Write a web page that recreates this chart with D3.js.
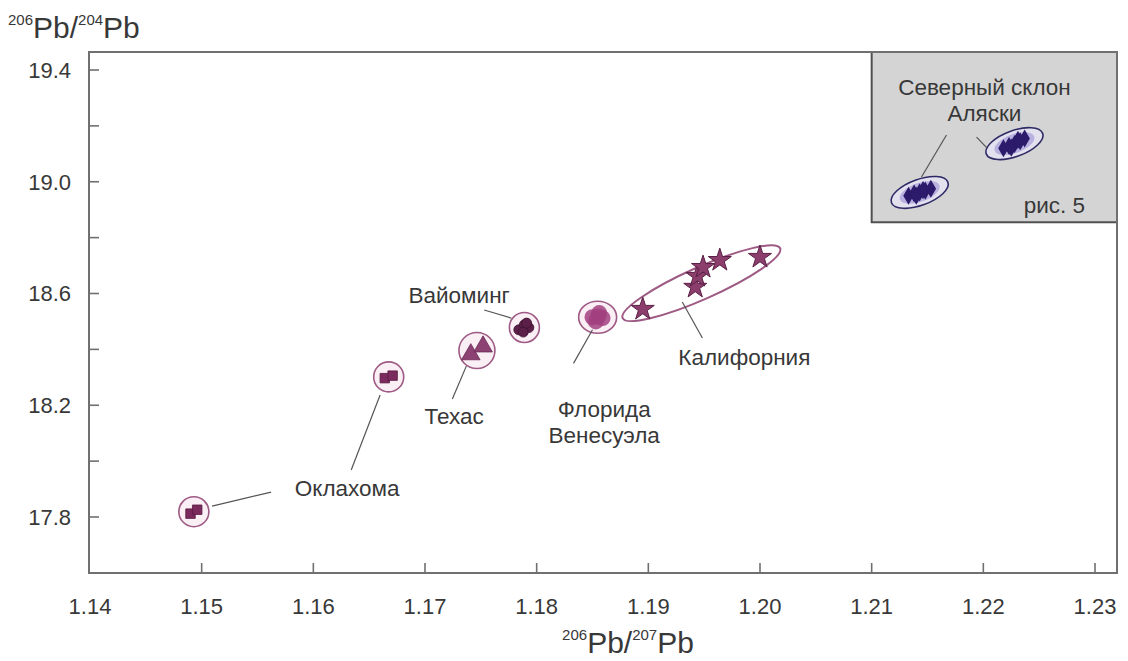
<!DOCTYPE html>
<html>
<head>
<meta charset="utf-8">
<script src="https://cdn.jsdelivr.net/npm/d3@7"></script>
<style>
  body { margin: 0; background: #fff; }
  text { font-family: "Liberation Sans", Arial, sans-serif; }
</style>
</head>
<body>
<svg id="chart" width="1128" height="661"></svg>
<script>
// Lead isotope ratios of crude oils by region: 206Pb/207Pb vs 206Pb/204Pb

const xTickValues = [1.14, 1.15, 1.16, 1.17, 1.18, 1.19, 1.20, 1.21, 1.22, 1.23];
const yMajorTicks = [17.8, 18.2, 18.6, 19.0, 19.4];
const yMinorTicks = [18.0, 18.4, 18.8, 19.2];

const oklahomaX = [1.1490, 1.1496, 1.1664, 1.1671];
const oklahomaY = [17.812, 17.826, 18.297, 18.306];
const oklahomaGroup = [0, 0, 1, 1];

const texasX = [1.1741, 1.1752];
const texasY = [18.382, 18.410];

const wyomingX = [1.1784, 1.1789, 1.1793, 1.1788, 1.1791];
const wyomingY = [18.470, 18.488, 18.478, 18.462, 18.494];

const floridaX = [1.1850, 1.1856, 1.1859, 1.1853, 1.1855];
const floridaY = [18.515, 18.530, 18.512, 18.500, 18.518];

const californiaX = [1.1895, 1.1942, 1.1944, 1.1949, 1.1964, 1.2000];
const californiaY = [18.544, 18.623, 18.662, 18.694, 18.719, 18.730];

const alaskaX = [1.2133, 1.2138, 1.2143, 1.2148, 1.2153, 1.2140, 1.2146,
                 1.2218, 1.2223, 1.2228, 1.2233, 1.2237, 1.2225, 1.2231];
const alaskaY = [18.950, 18.958, 18.962, 18.968, 18.975, 18.950, 18.970,
                 19.120, 19.128, 19.135, 19.145, 19.155, 19.122, 19.150];
const alaskaGroup = [0, 0, 0, 0, 0, 0, 0, 1, 1, 1, 1, 1, 1, 1];

const svg = d3.select("#chart");
const frame = { left: 89, top: 52, right: 1117, bottom: 573 };

const x = d3.scaleLinear().domain([1.14, 1.23]).range([90, 1095]);
const y = d3.scaleLinear().domain([17.8, 19.4]).range([517, 70]);

const axisColor = "#707070";
const textColor = "#383838";
const lineColor = "#555";

const pts = (xs, ys, extra) => xs.map((v, i) => Object.assign({ x: v, y: ys[i] }, extra ? { g: extra[i] } : {}));
const mean = a => d3.mean(a);

// ---- inset panel (Alaska North Slope)
const insetX0 = x(1.21), insetY1 = y(18.855);
svg.append("rect")
  .attr("x", insetX0).attr("y", frame.top)
  .attr("width", frame.right - insetX0).attr("height", insetY1 - frame.top)
  .attr("fill", "#d4d4d4").attr("stroke", "#505050").attr("stroke-width", 2);

// ---- frame and ticks
svg.append("rect")
  .attr("x", frame.left).attr("y", frame.top)
  .attr("width", frame.right - frame.left).attr("height", frame.bottom - frame.top)
  .attr("fill", "none").attr("stroke", axisColor).attr("stroke-width", 2);

svg.append("g").selectAll("line").data(xTickValues.slice(1)).join("line")
  .attr("x1", d => x(d)).attr("x2", d => x(d))
  .attr("y1", frame.bottom).attr("y2", frame.bottom - 10)
  .attr("stroke", axisColor).attr("stroke-width", 1.6);

svg.append("g").selectAll("text").data(xTickValues).join("text")
  .attr("x", d => x(d)).attr("y", 614)
  .attr("text-anchor", "middle").attr("font-size", 22).attr("fill", textColor)
  .text(d => d3.format(".2f")(d));

svg.append("g").selectAll("line").data(yMajorTicks.concat(yMinorTicks)).join("line")
  .attr("x1", frame.left).attr("x2", frame.left + 10)
  .attr("y1", d => y(d)).attr("y2", d => y(d))
  .attr("stroke", axisColor).attr("stroke-width", 1.6);

svg.append("g").selectAll("text").data(yMajorTicks).join("text")
  .attr("x", 71).attr("y", d => y(d))
  .attr("dy", "0.36em")
  .attr("text-anchor", "end").attr("font-size", 22).attr("fill", textColor)
  .text(d => d3.format(".1f")(d));

// ---- axis titles with superscript mass numbers
function isoTitle(tx, ty, anchor, a, b) {
  const t = svg.append("text").attr("x", tx).attr("y", ty)
    .attr("text-anchor", anchor).attr("fill", textColor).attr("font-size", 30);
  t.append("tspan").attr("font-size", 15).attr("dy", -13).text(a);
  t.append("tspan").attr("dy", 13).text("Pb/");
  t.append("tspan").attr("font-size", 15).attr("dy", -13).text(b);
  t.append("tspan").attr("dy", 13).text("Pb");
}
isoTitle(8, 38, "start", "206", "204");
isoTitle(628, 653, "middle", "206", "207");

// ---- styles for groups
const haloFill = "#fbeff6", haloStroke = "#9e5a84";

// Oklahoma: two clusters, each in a circle
const okla = pts(oklahomaX, oklahomaY, oklahomaGroup);
d3.groups(okla, d => d.g).forEach(([, g]) => {
  svg.append("circle")
    .attr("cx", x(mean(g.map(d => d.x)))).attr("cy", y(mean(g.map(d => d.y))))
    .attr("r", 15).attr("fill", haloFill).attr("stroke", haloStroke).attr("stroke-width", 1.6);
});
svg.append("g").selectAll("path").data(okla).join("path")
  .attr("d", d3.symbol(d3.symbolSquare, 90))
  .attr("transform", d => `translate(${x(d.x)},${y(d.y)})`)
  .attr("fill", "#7a2a5c").attr("stroke", "#5a1a42").attr("stroke-width", 0.8);

// Texas
const tex = pts(texasX, texasY);
svg.append("circle")
  .attr("cx", x(mean(texasX))).attr("cy", y(mean(texasY)))
  .attr("r", 18).attr("fill", haloFill).attr("stroke", haloStroke).attr("stroke-width", 1.6);
svg.append("g").selectAll("path").data(tex).join("path")
  .attr("d", d3.symbol(d3.symbolTriangle, 150))
  .attr("transform", d => `translate(${x(d.x)},${y(d.y)})`)
  .attr("fill", "#8c4272").attr("stroke", "#6a2a55").attr("stroke-width", 0.8);

// Wyoming
const wyo = pts(wyomingX, wyomingY);
svg.append("circle")
  .attr("cx", x(mean(wyomingX))).attr("cy", y(mean(wyomingY)))
  .attr("r", 15).attr("fill", haloFill).attr("stroke", haloStroke).attr("stroke-width", 1.6);
svg.append("g").selectAll("circle").data(wyo).join("circle")
  .attr("cx", d => x(d.x)).attr("cy", d => y(d.y)).attr("r", 5)
  .attr("fill", "#5c2048").attr("stroke", "#3e1030").attr("stroke-width", 0.8);

// Florida / Venezuela
const flo = pts(floridaX, floridaY);
svg.append("ellipse")
  .attr("cx", x(mean(floridaX))).attr("cy", y(mean(floridaY)))
  .attr("rx", 19).attr("ry", 16).attr("fill", haloFill).attr("stroke", haloStroke).attr("stroke-width", 1.6);
svg.append("g").selectAll("circle").data(flo).join("circle")
  .attr("cx", d => x(d.x)).attr("cy", d => y(d.y)).attr("r", 8)
  .attr("fill", "#a2417f").attr("fill-opacity", 0.85);

// California: ellipse along the spread of the samples
const cal = pts(californiaX, californiaY);
{
  const p0 = cal[0], p1 = cal[cal.length - 1];
  const ax = x(p0.x), ay = y(p0.y), bx = x(p1.x), by = y(p1.y);
  const cx = (ax + bx) / 2, cy = (ay + by) / 2;
  const ang = Math.atan2(by - ay, bx - ax) * 180 / Math.PI;
  const half = Math.hypot(bx - ax, by - ay) / 2 + 22;
  svg.append("ellipse")
    .attr("transform", `translate(${cx},${cy}) rotate(${ang})`)
    .attr("rx", half).attr("ry", 16)
    .attr("fill", "none").attr("stroke", haloStroke).attr("stroke-width", 2);
}
svg.append("g").selectAll("path").data(cal).join("path")
  .attr("d", d3.symbol(d3.symbolStar, 165))
  .attr("transform", d => `translate(${x(d.x)},${y(d.y)})`)
  .attr("fill", "#8b3d6c").attr("stroke", "#5a2045").attr("stroke-width", 1);

// Alaska North Slope (inset)
const ala = pts(alaskaX, alaskaY, alaskaGroup);
d3.groups(ala, d => d.g).forEach(([, g]) => {
  const cx = x(mean(g.map(d => d.x))), cy = y(mean(g.map(d => d.y)));
  svg.append("ellipse")
    .attr("transform", `translate(${cx},${cy}) rotate(-20)`)
    .attr("rx", 30).attr("ry", 13)
    .attr("fill", "#e4e1ee").attr("stroke", "#2e2a66").attr("stroke-width", 1.6);
  svg.append("ellipse")
    .attr("transform", `translate(${cx},${cy}) rotate(-20)`)
    .attr("rx", 21).attr("ry", 9.5)
    .attr("fill", "#b9b2e0");
});
svg.append("g").selectAll("path").data(ala).join("path")
  .attr("d", d3.symbol(d3.symbolDiamond, 95))
  .attr("transform", d => `translate(${x(d.x)},${y(d.y)})`)
  .attr("fill", "#2c1a6a");

// ---- leader lines (data coordinates)
const leaders = [
  [1.15093, 17.839, 1.15622, 17.889],
  [1.16598, 18.237, 1.16339, 17.968],
  [1.17370, 18.340, 1.17245, 18.222],
  [1.17530, 18.541, 1.17772, 18.512],
  [1.18500, 18.470, 1.18330, 18.350],
  [1.19304, 18.5695, 1.19484, 18.4407],
  [1.21670, 19.1672, 1.21446, 19.0169],
  [1.21939, 19.160, 1.22030, 19.122]
];
svg.append("g").selectAll("line").data(leaders).join("line")
  .attr("x1", d => x(d[0])).attr("y1", d => y(d[1]))
  .attr("x2", d => x(d[2])).attr("y2", d => y(d[3]))
  .attr("stroke", lineColor).attr("stroke-width", 1.2);

// ---- region labels
const labels = [
  ["Оклахома", 1.16303, 17.904],
  ["Техас", 1.17261, 18.161],
  ["Вайоминг", 1.17306, 18.5946],
  ["Флорида", 1.18605, 18.1866],
  ["Венесуэла", 1.18605, 18.0935],
  ["Калифорния", 1.19860, 18.3727],
  ["Северный склон", 1.22010, 19.339],
  ["Аляски", 1.22010, 19.246],
  ["рис. 5", 1.22637, 18.9167]
];
svg.append("g").selectAll("text").data(labels).join("text")
  .attr("x", d => x(d[1])).attr("y", d => y(d[2]))
  .attr("dy", "0.36em").attr("text-anchor", "middle")
  .attr("font-size", 22.5).attr("fill", textColor)
  .text(d => d[0]);
</script>
</body>
</html>
